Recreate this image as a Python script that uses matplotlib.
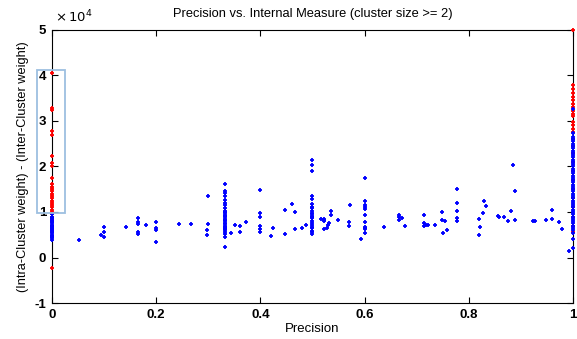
import matplotlib
matplotlib.use("Agg")
import matplotlib.pyplot as plt
from matplotlib.patches import Rectangle

plt.rcParams['font.family'] = ['Liberation Sans', 'DejaVu Sans']

# values in units of 1e4
x0_blue_y = [0.38, 0.42, 0.45, 0.48, 0.50, 0.53, 0.55, 0.58, 0.60, 0.62, 0.65,
             0.68, 0.70, 0.72, 0.75, 0.78, 0.80, 0.83, 0.86, 0.90, 0.95]
x0_red_y = [4.05, 3.29, 3.24, 2.78, 2.68, 2.24, 2.07, 2.00, 1.74, 1.62, 1.55,
            1.50, 1.45, 1.40, 1.35, 1.30, 1.25, 1.20, 1.15, 1.10, 1.05, 1.00,
            0.95, 0.90, 0.85, 0.80, 0.70, -0.23]
x1_blue_y = [3.26, 2.73, 2.65, 2.60, 2.55, 2.50, 2.45, 2.40, 2.35, 2.30, 2.25,
             2.20, 2.15, 2.10, 2.05, 2.00, 1.95, 1.90, 1.85, 1.80, 1.75, 1.70,
             1.65, 1.60, 1.55, 1.50, 1.45, 1.40, 1.35, 1.30, 1.25, 1.20, 1.15,
             1.10, 1.05, 1.00, 0.95, 0.90, 0.85, 0.80, 0.75, 0.70, 0.65, 0.60,
             0.54, 0.40, 0.215]
x1_red_y = [5.00, 3.78, 3.70, 3.62, 3.52, 3.45, 3.38, 3.30, 3.22, 3.15, 3.10,
            2.98, 2.90, 2.82, 2.75, 2.60, 2.45, 2.30, 2.10, 1.90, 1.70, 1.50,
            1.30, 1.10, 0.90, 0.70, 0.55]

mid_x = [0.052, 0.099, 0.099, 0.099, 0.095, 0.143,
         0.166, 0.166, 0.166, 0.166, 0.166, 0.181,
         0.200, 0.200, 0.200, 0.200, 0.243, 0.267,
         0.300, 0.300, 0.297, 0.297,
         0.333, 0.333, 0.333, 0.333, 0.333, 0.333, 0.333, 0.333, 0.333, 0.333,
         0.333, 0.333, 0.333, 0.333, 0.333, 0.333, 0.333, 0.333, 0.333,
         0.333, 0.333, 0.333, 0.333, 0.333, 0.333, 0.333, 0.333, 0.333,
         0.344, 0.351, 0.361, 0.361, 0.372,
         0.400, 0.400, 0.400, 0.400, 0.400, 0.400,
         0.420, 0.424, 0.447, 0.447, 0.461, 0.466, 0.466, 0.479, 0.488,
         0.500, 0.500, 0.500, 0.500, 0.500, 0.500, 0.500, 0.500, 0.500, 0.500,
         0.500, 0.500, 0.500, 0.500, 0.500, 0.500, 0.500, 0.500, 0.500, 0.500,
         0.500, 0.500,
         0.516, 0.522, 0.522, 0.523, 0.536, 0.536, 0.532, 0.530, 0.528, 0.522,
         0.550, 0.573, 0.571, 0.571,
         0.600, 0.600, 0.600, 0.600, 0.600, 0.600, 0.600, 0.600, 0.600, 0.600,
         0.600, 0.594, 0.637,
         0.667, 0.667, 0.667, 0.672, 0.677,
         0.715, 0.715, 0.715, 0.718, 0.722, 0.735,
         0.749, 0.749, 0.754, 0.758, 0.751,
         0.778, 0.778, 0.778, 0.778, 0.778,
         0.819, 0.822, 0.819, 0.827, 0.830, 0.834,
         0.857, 0.859, 0.867, 0.875, 0.882, 0.885, 0.889, 0.889,
         0.923, 0.928, 0.949, 0.960, 0.960, 0.973, 0.979, 0.992]
mid_y = [0.385, 0.664, 0.56, 0.45, 0.50, 0.677,
         0.875, 0.77, 0.736, 0.567, 0.51, 0.708,
         0.787, 0.648, 0.598, 0.34, 0.743, 0.73,
         1.352, 0.743, 0.598, 0.495,
         1.609, 1.468, 1.41, 1.352, 1.264, 1.205, 1.147, 1.088, 1.03, 0.971,
         0.912, 0.853, 0.795, 0.736, 0.677, 0.619, 0.56, 0.457, 0.237,
         1.00, 0.94, 0.88, 0.82, 0.76, 0.70, 0.65, 0.60, 0.52,
         0.538, 0.714, 0.70, 0.554, 0.787,
         1.49, 0.971, 0.897, 0.692, 0.62, 0.554,
         0.48, 0.648, 0.523, 1.037, 1.176, 0.993, 0.633, 0.648, 0.714,
         2.136, 2.033, 1.894, 1.345, 1.286, 1.176, 1.10, 1.081, 1.022, 0.971,
         0.912, 0.86, 0.81, 0.765, 0.72, 0.677, 0.64, 0.59, 0.55, 0.51,
         0.95, 0.89,
         0.853, 0.824, 0.84, 0.795, 1.03, 0.94, 0.75, 0.714, 0.648, 0.633,
         0.83, 1.16, 0.78, 0.70,
         1.756, 1.235, 1.147, 1.103, 1.059, 0.941, 0.773, 0.677, 0.648, 0.626,
         0.538, 0.413, 0.677,
         0.94, 0.883, 0.824, 0.868, 0.686,
         0.94, 0.75, 0.70, 0.714, 0.714, 0.708,
         1.007, 0.83, 0.795, 0.598, 0.532,
         1.51, 1.205, 1.015, 0.868, 0.80,
         0.84, 0.664, 0.495, 0.985, 1.235, 1.125,
         0.905, 0.89, 0.883, 0.80, 1.03, 2.04, 1.468, 0.824,
         0.80, 0.80, 0.817, 1.044, 0.84, 0.787, 0.626, 0.136]

x_ticks = [0, 0.2, 0.4, 0.6, 0.8, 1]
x_ticklabels = ['0', '0.2', '0.4', '0.6', '0.8', '1']
y_ticks = [-1, 0, 1, 2, 3, 4, 5]
y_ticklabels = ['-1', '0', '1', '2', '3', '4', '5']

fig = plt.figure(figsize=(5.77, 3.39), dpi=100)
ax = fig.add_axes([0.090, 0.106, 0.903, 0.806])

mk = dict(marker='+', s=8, linewidths=1.3, clip_on=False, zorder=3)
ax.scatter([0] * len(x0_red_y), x0_red_y, color='#ff0000', **mk)
ax.scatter([1] * len(x1_red_y), x1_red_y, color='#ff0000', **mk)
ax.scatter([0] * len(x0_blue_y), x0_blue_y, color='#0000ff', **mk)
ax.scatter([1] * len(x1_blue_y), x1_blue_y, color='#0000ff', **mk)
ax.scatter(mid_x, mid_y, color='#0000ff', **mk)

ax.add_patch(Rectangle((-0.029, 0.98), 0.054, 3.14, fill=False,
                       edgecolor='#9dbfe0', linewidth=1.3, clip_on=False, zorder=4))

ax.set_xlim(0, 1)
ax.set_ylim(-1, 5)
ax.set_xticks(x_ticks)
ax.set_xticklabels(x_ticklabels)
ax.set_yticks(y_ticks)
ax.set_yticklabels(y_ticklabels)
ax.tick_params(direction='in', length=4, width=0.8, top=True, right=True,
               labelsize=9.5, pad=4)
for lab in ax.get_xticklabels() + ax.get_yticklabels():
    lab.set_fontweight('bold')
for sp in ax.spines.values():
    sp.set_linewidth(0.8)

ax.set_title('Precision vs. Internal Measure (cluster size >= 2)', fontsize=9.3, pad=9)
ax.set_xlabel('Precision', fontsize=9.5, labelpad=2)
ax.set_ylabel('(Intra-Cluster weight) - (Inter-Cluster weight)', fontsize=9.2, labelpad=4)
ax.text(0.005, 1.015, r'$\times\,10^{4}$', transform=ax.transAxes, fontsize=9.5,
        ha='left', va='bottom')

fig.savefig('out.png', dpi=100)
